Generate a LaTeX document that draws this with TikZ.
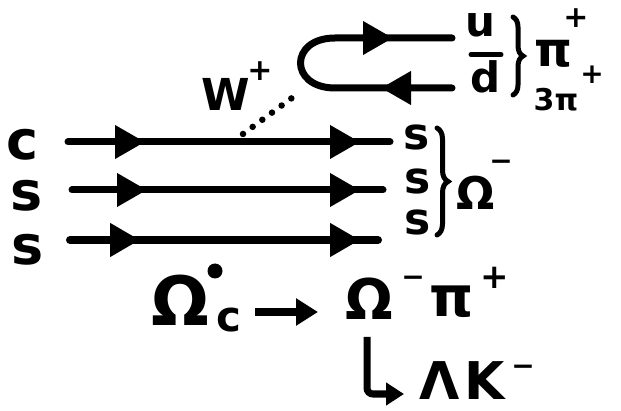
\documentclass[tikz,border=0pt]{standalone}
\usepackage{fontspec}
\setmainfont{DejaVu Sans}
\usetikzlibrary{arrows.meta,decorations.markings,decorations.pathreplacing}
\begin{document}
\begin{tikzpicture}[x=1pt,y=-1pt,
  lbl/.style={inner sep=0pt, font=\fontsize{#1}{#1}\selectfont\bfseries},
  quark/.style={line width=7pt, line cap=round},
  twotips/.style 2 args={postaction={decorate, decoration={markings,
      mark=at position #1 with {\arrow{Triangle[length=30pt,width=32pt]}},
      mark=at position #2 with {\arrow{Triangle[length=30pt,width=32pt]}}}}},
  grp/.style={decorate, decoration={brace, amplitude=#1}, line width=5pt, line cap=round},
  dots/.style={line width=6.5pt, line cap=round, dash pattern=on 0pt off 12pt}
]
\useasboundingbox (0,0) rectangle (621,411);

% quark labels, initial state
\node[lbl=54] (qc)  at (23,145) {c};
\node[lbl=54] (qs1) at (27,196) {s};
\node[lbl=54] (qs2) at (28,250) {s};

% quark labels, final state
\node[lbl=44] (rs1) at (417,137) {s};
\node[lbl=44] (rs2) at (418,181) {s};
\node[lbl=44] (rs3) at (418,222) {s};

% quark lines
\coordinate (l1a) at (68,142);  \coordinate (l1b) at (390,142);
\coordinate (l2a) at (72,190);  \coordinate (l2b) at (383,190);
\coordinate (l3a) at (70,240);  \coordinate (l3b) at (378,240);
\draw[quark, twotips={77pt}{292pt}] (l1a) -- (l1b);
\draw[quark, twotips={75pt}{288pt}] (l2a) -- (l2b);
\draw[quark, line width=8pt, twotips={70pt}{290pt}] (l3a) -- (l3b);

% Omega- bracket
\coordinate (b1a) at (437,128); \coordinate (b1b) at (437,235);
\draw[grp=11pt] (b1a) -- (b1b);
\node[lbl=45] (omR) at (476,193) {Ω};
\node[lbl=28] (omRm) at (501,165) {−};

% u dbar pair
\coordinate (lpA) at (452,88); \coordinate (lpB) at (452,38);
\draw[quark, twotips={71pt}{-59pt}] (lpA) -- (335,88) .. controls (289,88) and (289,38) .. (335,38) -- (lpB);
\node[lbl=42] (qu) at (480,25) {u};
\node[lbl=42] (qd) at (486,77) {d};
\draw[line width=4.5pt, line cap=round] ([yshift=6pt]qd.north west) coordinate (barL) -- ([yshift=6pt]qd.north east) coordinate (barR);
\coordinate (b2a) at (513,17); \coordinate (b2b) at (513,95);
\draw[grp=10pt] (b2a) -- (b2b);
\node[lbl=48] (pi1) at (553,54) {π};
\node[lbl=30] (pi1p) at (576,18) {+};
\node[lbl=30] (pi3) at (556,100) {3π};
\node[lbl=28] (pi3p) at (592,75) {+};

% W boson
\node[lbl=44] (W) at (226,94) {W};
\node[lbl=30] (Wp) at (260,71) {+};
\coordinate (wa) at (243,134); \coordinate (wb) at (300,92);
\draw[dots] (wa) -- (wb);

% decay
\node[lbl=68] (omc) at (180,300) {Ω};
\node[circle, fill, inner sep=0pt, minimum size=15pt] (omc0) at (215,271) {};
\node[lbl=42] (omcc) at (229,320) {c};
\node[lbl=56] (om) at (369,299) {Ω};
\node[lbl=28] (omm) at (413,281) {−};
\node[lbl=56] (pi2) at (452,302) {π};
\node[lbl=34] (pi2p) at (495,278) {+};
\coordinate (dA) at (255,312); \coordinate (dB) at (318,312);
\draw[line width=8pt, -{Triangle[length=22pt,width=26pt]}] (dA) -- (dB);

\node[lbl=52] (lam) at (440,381) {Λ};
\node[lbl=52] (km) at (485,381) {K};
\node[lbl=28] (kmm) at (523,370) {−};
\coordinate (hA) at (367,337); \coordinate (hk) at (404,394);
\draw[line width=7pt, rounded corners=6pt, -{Triangle[length=18pt,width=22pt]}] (hA) -- (367,394) -- (hk);
\end{tikzpicture}
\end{document}
